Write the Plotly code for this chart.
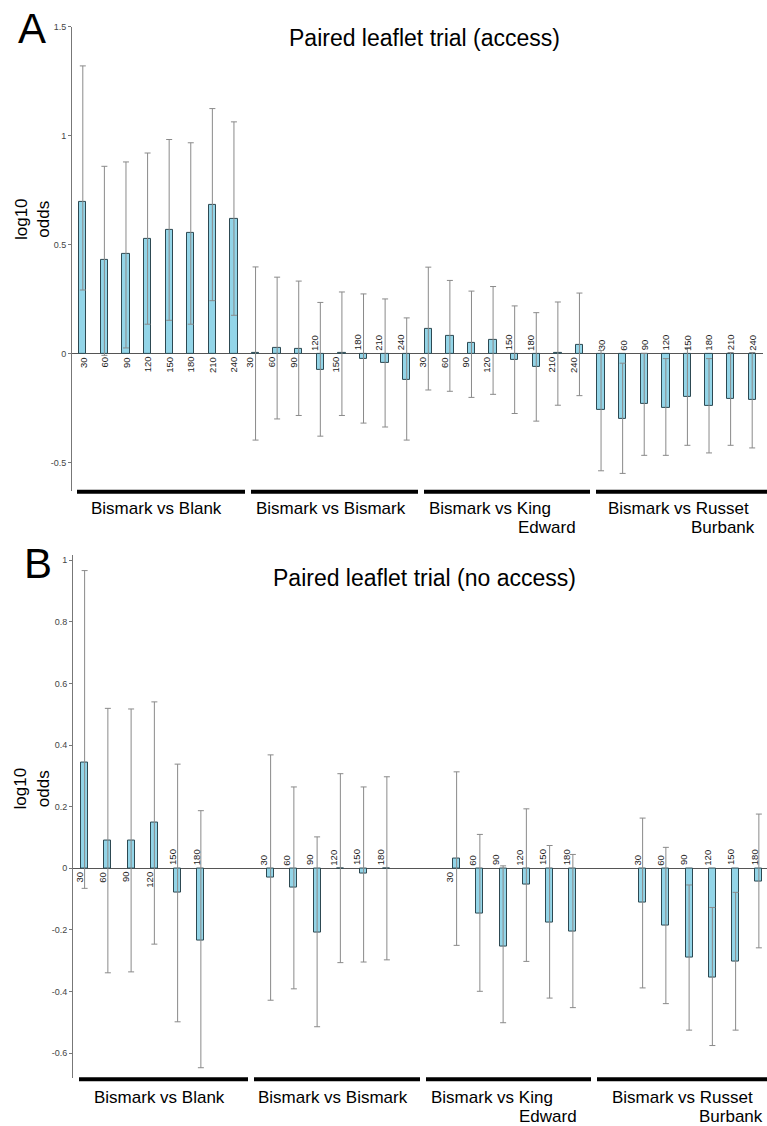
import plotly.graph_objects as go

# ---------------- data ----------------
groups = ["Bismark vs Blank", "Bismark vs Bismark", "Bismark vs King Edward", "Bismark vs Russet Burbank"]
times_access = [30, 60, 90, 120, 150, 180, 210, 240]
times_noaccess = [30, 60, 90, 120, 150, 180]

# Panel A: paired leaflet trial (access) -- log10 odds, upper / lower CI
access_mean = [0.698, 0.432, 0.456, 0.526, 0.569, 0.552, 0.683, 0.619,
               0.002, 0.026, 0.021, -0.073, 0.002, -0.023, -0.041, -0.119,
               0.114, 0.082, 0.047, 0.061, -0.031, -0.062, 0.002, 0.042,
               -0.260, -0.301, -0.233, -0.251, -0.198, -0.242, -0.210, -0.214]
access_hi = [1.321, 0.860, 0.880, 0.921, 0.983, 0.968, 1.125, 1.064,
             0.398, 0.351, 0.333, 0.235, 0.283, 0.274, 0.251, 0.164,
             0.397, 0.336, 0.287, 0.308, 0.219, 0.188, 0.237, 0.278,
             0.014, -0.044, 0.001, -0.023, 0.026, -0.023, 0.005, 0.005]
access_lo = [0.292, -0.008, 0.026, 0.135, 0.153, 0.135, 0.243, 0.176,
             -0.397, -0.300, -0.284, -0.379, -0.284, -0.319, -0.337, -0.397,
             -0.167, -0.173, -0.201, -0.187, -0.275, -0.310, -0.237, -0.193,
             -0.538, -0.550, -0.467, -0.467, -0.421, -0.456, -0.421, -0.433]

# Panel B: paired leaflet trial (no access)
noaccess_mean = [0.344, 0.090, 0.090, 0.147, -0.078, -0.233,
                 -0.030, -0.064, -0.207, -0.002, -0.018, -0.002,
                 0.032, -0.147, -0.255, -0.053, -0.176, -0.205,
                 -0.112, -0.187, -0.289, -0.355, -0.302, -0.043]
noaccess_hi = [0.966, 0.519, 0.517, 0.540, 0.338, 0.187,
               0.368, 0.264, 0.102, 0.307, 0.264, 0.297,
               0.313, 0.110, 0.008, 0.193, 0.074, 0.045,
               0.163, 0.068, -0.054, -0.127, -0.078, 0.176]
noaccess_lo = [-0.065, -0.339, -0.336, -0.246, -0.498, -0.647,
               -0.428, -0.391, -0.514, -0.306, -0.304, -0.297,
               -0.250, -0.399, -0.501, -0.302, -0.421, -0.452,
               -0.388, -0.439, -0.525, -0.575, -0.525, -0.258]

access_ticks = [-0.5, 0, 0.5, 1, 1.5]
access_ticktext = ["-0.5", "0", "0.5", "1", "1.5"]
noaccess_ticks = [-0.6, -0.4, -0.2, 0, 0.2, 0.4, 0.6, 0.8, 1]
noaccess_ticktext = ["-0.6", "-0.4", "-0.2", "0", "0.2", "0.4", "0.6", "0.8", "1"]

titles = ["Paired leaflet trial (access)", "Paired leaflet trial (no access)"]
panel_letters = ["A", "B"]

# ---------------- styling / layout ----------------
W, H = 767, 1126
FONT = "Liberation Sans, Arial, sans-serif"
BAR_FILL = "#93d5e8"
BAR_LINE = "#2d4952"
ERR_COL = "#8a8a8a"
SLOT = 8  # category slots per group


def px_x(v):
    return v / W


def px_y(v):
    return 1 - v / H


fig = go.Figure()
annotations = []
shapes = []

panels = [
    dict(times=times_access, mean=access_mean, hi=access_hi, lo=access_lo,
         xa="x", ya="y", xdom=[72, 763], ydom=[22, 488], yr=[-0.63, 1.5], xr=[-0.5, 31.5],
         ticks=access_ticks, ticktext=access_ticktext, bw=0.34, lab_shift=[0, -6, -6, 0],
         title_y=33, letter_xy=(16, 24), ylab_y=215, line_y=489,
         lines=[(77, 245), (251, 418), (424, 590), (596, 767)],
         lab1=[156, 331, 490, 678], lab2=[None, None, 578, 757], lab_y=(506, 525)),
    dict(times=times_noaccess, mean=noaccess_mean, hi=noaccess_hi, lo=noaccess_lo,
         xa="x2", ya="y2", xdom=[73, 767], ydom=[552, 1078], yr=[-0.681, 1.018], xr=[-0.5, 29.35],
         ticks=noaccess_ticks, ticktext=noaccess_ticktext, bw=0.31, lab_shift=[-5, -7, -7, -5],
         title_y=576, letter_xy=(22, 561), ylab_y=787, line_y=1079,
         lines=[(79, 248), (254, 420), (426, 591), (597, 767)],
         lab1=[159, 333, 492, 682], lab2=[None, None, 579, 765], lab_y=(1097, 1116)),
]

for pi, p in enumerate(panels):
    xs, labels, gidx = [], [], []
    for g in range(len(groups)):
        for i, t in enumerate(p["times"]):
            xs.append(g * SLOT + i)
            labels.append(str(t))
            gidx.append(g)
    up = [h - m for h, m in zip(p["hi"], p["mean"])]
    dn = [m - l for m, l in zip(p["mean"], p["lo"])]
    fig.add_trace(go.Bar(
        x=xs, y=p["mean"], xaxis=p["xa"], yaxis=p["ya"], width=p["bw"],
        marker=dict(color=BAR_FILL, line=dict(color=BAR_LINE, width=1)),
        error_y=dict(type="data", symmetric=False, array=up, arrayminus=dn,
                     color=ERR_COL, thickness=1, width=3),
        showlegend=False, hoverinfo="skip",
    ))
    # time labels on the opposite side of each bar
    for x, v, lab, g in zip(xs, p["mean"], labels, gidx):
        below = v >= 0
        annotations.append(dict(
            x=x, y=0, xref=p["xa"], yref=p["ya"], text=lab, showarrow=False,
            textangle=-90, xanchor="center", yanchor="top" if below else "bottom",
            yshift=-2 if below else 2, xshift=p["lab_shift"][g], borderpad=0,
            font=dict(family=FONT, size=9.5, color="#222"),
        ))
    axis_suffix = "" if pi == 0 else "2"
    fig.update_layout(**{
        "xaxis" + axis_suffix: dict(domain=[px_x(p["xdom"][0]), px_x(p["xdom"][1])],
                                    range=p["xr"], visible=False, anchor=p["ya"],
                                    fixedrange=True),
        "yaxis" + axis_suffix: dict(domain=[px_y(p["ydom"][1]), px_y(p["ydom"][0])],
                                    range=p["yr"], anchor=p["xa"], showgrid=False,
                                    zeroline=True, zerolinecolor="#555", zerolinewidth=1,
                                    showline=True, linecolor="#777", linewidth=1,
                                    ticks="outside", ticklen=3, tickcolor="#777",
                                    tickvals=p["ticks"], ticktext=p["ticktext"],
                                    tickfont=dict(family=FONT, size=9, color="#444")),
    })
    # title
    annotations.append(dict(x=px_x(424), y=px_y(p["title_y"]), xref="paper", yref="paper",
                            text=titles[pi], showarrow=False, xanchor="center", yanchor="middle",
                            font=dict(family=FONT, size=23, color="#000")))
    # panel letter
    annotations.append(dict(x=px_x(p["letter_xy"][0]), y=px_y(p["letter_xy"][1]), xref="paper", yref="paper",
                            text=panel_letters[pi], showarrow=False, xanchor="left", yanchor="middle",
                            font=dict(family=FONT, size=42, color="#000")))
    # y axis title
    annotations.append(dict(x=px_x(32), y=px_y(p["ylab_y"]), xref="paper", yref="paper",
                            text="log10<br>odds", showarrow=False, textangle=-90,
                            xanchor="center", yanchor="middle",
                            font=dict(family=FONT, size=17, color="#000")))
    # group bars + labels
    for g, name in enumerate(groups):
        x0, x1 = p["lines"][g]
        shapes.append(dict(type="line", xref="paper", yref="paper",
                           x0=px_x(x0), x1=px_x(x1), y0=px_y(p["line_y"]), y1=px_y(p["line_y"]),
                           line=dict(color="#000", width=4)))
        if p["lab2"][g] is None:
            annotations.append(dict(x=px_x(p["lab1"][g]), y=px_y(p["lab_y"][0]), xref="paper", yref="paper",
                                    text=name, showarrow=False, xanchor="center", yanchor="middle",
                                    font=dict(family=FONT, size=17, color="#000")))
        else:
            words = name.split(" ")
            first, last = " ".join(words[:-1]), words[-1]
            annotations.append(dict(x=px_x(p["lab1"][g]), y=px_y(p["lab_y"][0]), xref="paper", yref="paper",
                                    text=first, showarrow=False, xanchor="center", yanchor="middle",
                                    font=dict(family=FONT, size=17, color="#000")))
            annotations.append(dict(x=px_x(p["lab2"][g]), y=px_y(p["lab_y"][1]), xref="paper", yref="paper",
                                    text=last, showarrow=False, xanchor="right", yanchor="middle",
                                    font=dict(family=FONT, size=17, color="#000")))

fig.update_layout(
    width=W, height=H, margin=dict(l=0, r=0, t=0, b=0),
    paper_bgcolor="white", plot_bgcolor="white",
    annotations=annotations, shapes=shapes, showlegend=False,
    bargap=0,
)

fig.write_html(
    "out.html",
    config={"displayModeBar": False},
    post_script="document.body.style.margin='0';document.body.style.overflow='hidden';",
)
